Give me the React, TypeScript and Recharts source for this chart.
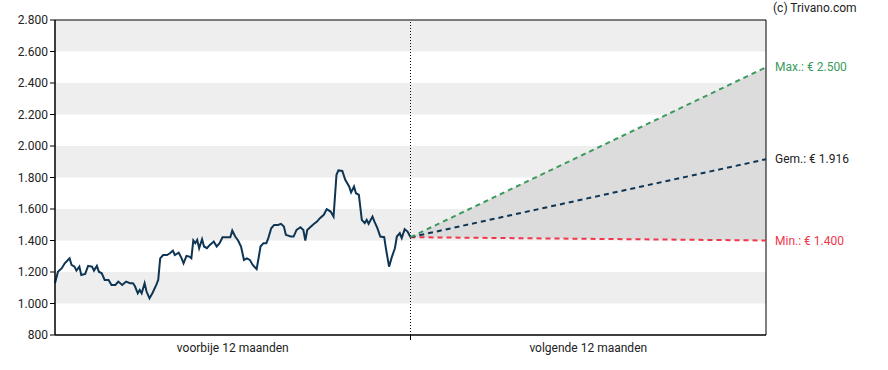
import React from 'react';
import {
  ComposedChart, Line, Area, XAxis, YAxis, ReferenceArea, ReferenceLine,
} from 'recharts';

// days within the past 12 months
const pastDays = [0,3,7,10,14,15,17,20,22,25,27,31,34,38,40,43,45,48,51,55,58,62,65,69,73,77,80,82,85,87,89,92,94,97,100,104,106,108,111,115,118,121,123,127,130,132,135,138,140,142,144,146,148,151,153,156,159,163,166,169,172,176,180,182,185,188,191,194,197,200,203,207,209,211,214,217,219,222,225,229,232,235,237,242,245,248,252,255,257,259,262,266,269,272,276,279,283,286,289,291,295,298,302,304,307,309,312,315,318,320,322,326,328,331,334,338,340,343,346,349,351,354,356,359,362,365];
const pastPrices = [1129,1202,1224,1255,1281,1287,1245,1234,1209,1234,1181,1188,1239,1234,1209,1239,1202,1192,1150,1150,1118,1118,1139,1118,1139,1129,1129,1111,1065,1086,1065,1129,1076,1033,1065,1118,1150,1287,1308,1308,1319,1336,1308,1323,1287,1255,1302,1298,1287,1400,1383,1404,1351,1408,1362,1351,1372,1394,1362,1383,1421,1421,1421,1463,1425,1400,1362,1277,1287,1277,1245,1218,1287,1362,1383,1383,1415,1478,1499,1499,1506,1489,1436,1425,1425,1467,1484,1467,1400,1467,1484,1506,1520,1542,1563,1599,1584,1552,1817,1845,1842,1785,1743,1705,1743,1700,1690,1531,1510,1531,1506,1552,1520,1478,1425,1421,1340,1234,1298,1351,1425,1446,1415,1472,1457,1421];

const forecastDays = [365, 730];
const forecastMin = [1421, 1400];
const forecastAvg = [1421, 1916];
const forecastMax = [1421, 2500];

const yTicks = [800,1000,1200,1400,1600,1800,2000,2200,2400,2600,2800];
const bandStarts = [1000,1400,1800,2200,2600];
const periodLabels = ['voorbije 12 maanden', 'volgende 12 maanden'];
const periodCenters = [182.5, 547.5];
const dividerDay = 365;
const labelPrefixes = { max: 'Max.: € ', avg: 'Gem.: € ', min: 'Min.: € ' };

const GREEN = '#3b9a5e';
const NAVY = '#0e3553';
const RED = '#f0364b';

const TICK_SIZE = 5;
const TICK_MARGIN = 3;

const fmt = (n: number) => String(Math.round(n)).replace(/\B(?=(\d{3})+(?!\d))/g, '.');

const data: any[] = pastDays.map((d, i) => ({ t: d, past: pastPrices[i] }));
forecastDays.forEach((d, i) => {
  const row = { t: d, min: forecastMin[i], avg: forecastAvg[i], max: forecastMax[i], range: [forecastMin[i], forecastMax[i]] };
  const existing = data.find(r => r.t === d);
  if (existing) Object.assign(existing, row);
  else data.push(row);
});
const lastIndex = data.length - 1;

const endLabel = (prefix: string, color: string) => (props: any) => {
  const { x, y, value, index } = props;
  if (index !== lastIndex) return null;
  return (
    <text x={x + 9} y={y} dy={4} fill={color} fontSize={12} fontFamily="Roboto, sans-serif">
      {prefix + fmt(value)}
    </text>
  );
};

const PeriodTick = (props: any) => {
  const { x, y, payload } = props;
  if (payload.value === dividerDay) {
    const axisY = y - TICK_SIZE - TICK_MARGIN;
    return <line x1={x} x2={x} y1={axisY} y2={axisY + TICK_SIZE} stroke="#000" />;
  }
  const idx = periodCenters.indexOf(payload.value);
  return (
    <text x={x} y={y} dy="0.71em" textAnchor="middle" fontSize={12} fill="#222" fontFamily="Roboto, sans-serif">
      {periodLabels[idx]}
    </text>
  );
};

export default function App() {
  return (
    <div style={{ position: 'absolute', left: 0, top: 0, width: 888, height: 370, background: '#fff' }}>
      <div style={{ position: 'absolute', left: 773, top: 1, fontSize: 12, lineHeight: '15px', fontFamily: 'Roboto, sans-serif', color: '#222' }}>
        (c) Trivano.com
      </div>
      <ComposedChart width={888} height={370} data={data} margin={{ top: 20, right: 122, bottom: 5, left: 0 }}
        style={{ fontFamily: 'Roboto, sans-serif' }}>
        <XAxis dataKey="t" type="number" domain={[0, 730]} ticks={[periodCenters[0], dividerDay, periodCenters[1]]}
          tick={<PeriodTick />} tickSize={TICK_SIZE} tickMargin={TICK_MARGIN} height={30} interval={0}
          axisLine={{ stroke: '#000' }} tickLine={false} />
        <YAxis type="number" domain={[800, 2800]} ticks={yTicks} tickFormatter={fmt} width={55}
          tickSize={5} tickMargin={2} axisLine={{ stroke: '#000' }} tickLine={{ stroke: '#000' }}
          tick={{ fontSize: 12, fill: '#222' }} interval={0} />
        {bandStarts.map(b => (
          <ReferenceArea key={b} x1={0} x2={730} y1={b} y2={b + 200} fill="#eeeeee" fillOpacity={1} stroke="none" />
        ))}
        <Area dataKey="range" type="linear" stroke="none" fill="#dcdcdc" fillOpacity={1} isAnimationActive={false} />
        <ReferenceLine x={dividerDay} stroke="#000" strokeDasharray="1 2" />
        <ReferenceArea x1={0} x2={730} y1={800} y2={2800} fill="none" stroke="#000" strokeWidth={1} ifOverflow="visible" />
        <Line dataKey="past" type="linear" stroke={NAVY} strokeWidth={2} dot={false} isAnimationActive={false} />
        <Line dataKey="min" type="linear" stroke={RED} strokeWidth={2} strokeDasharray="5 4" dot={false} isAnimationActive={false}
          label={endLabel(labelPrefixes.min, RED)} />
        <Line dataKey="avg" type="linear" stroke={NAVY} strokeWidth={2} strokeDasharray="5 4" dot={false} isAnimationActive={false}
          label={endLabel(labelPrefixes.avg, '#222')} />
        <Line dataKey="max" type="linear" stroke={GREEN} strokeWidth={2} strokeDasharray="5 4" dot={false} isAnimationActive={false}
          label={endLabel(labelPrefixes.max, GREEN)} />
      </ComposedChart>
    </div>
  );
}
